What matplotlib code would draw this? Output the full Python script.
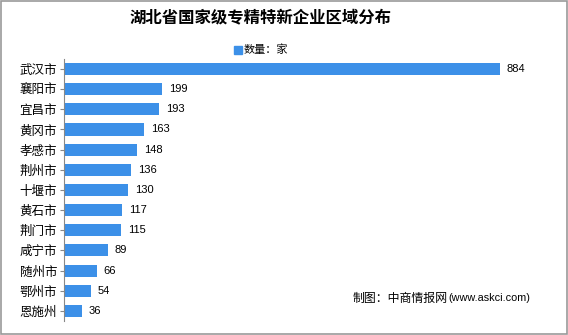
import numpy as np
import matplotlib
matplotlib.use('Agg')
import matplotlib.pyplot as plt
from matplotlib.patches import Rectangle

plt.rcParams['font.family'] = ['Noto Sans CJK SC', 'DejaVu Sans']

cities = ['武汉市', '襄阳市', '宜昌市', '黄冈市', '孝感市', '荆州市', '十堰市',
          '黄石市', '荆门市', '咸宁市', '随州市', '鄂州市', '恩施州']
counts = [884, 199, 193, 163, 148, 136, 130, 117, 115, 89, 66, 54, 36]

bar_color = '#3C90E8'

fig = plt.figure(figsize=(5.68, 3.35), dpi=100)
ax = fig.add_axes([0.1127, 0.042, 0.825, 0.782])

y = np.arange(len(cities))
ax.barh(y, counts, height=0.6, color=bar_color)
ax.set_ylim(len(cities) - 0.5, -0.5)
ax.set_xlim(0, 950)
ax.set_yticks(y)
ax.set_yticklabels(cities, fontsize=9)
ax.tick_params(axis='y', length=3, color='#888888', pad=2)
ax.set_xticks([])
for s in ['top', 'right', 'bottom']:
    ax.spines[s].set_visible(False)
ax.spines['left'].set_color('#888888')

for yi, v in zip(y, counts):
    ax.text(v + 14, yi, str(v), va='center', ha='left', fontsize=8,
            family=['Liberation Sans', 'DejaVu Sans'])

fig.text(0.459, 0.948, '湖北省国家级专精特新企业区域分布', ha='center', va='center',
         fontsize=11.8, fontweight='bold')
fig.add_artist(Rectangle((0.412, 0.838), 0.014, 0.025, transform=fig.transFigure,
                         color=bar_color))
fig.text(0.429, 0.851, '数量：家', ha='left', va='center', fontsize=8)

src = fig.text(0.621, 0.11, '制图：中商情报网', ha='left', va='center', fontsize=8.6)
fig.add_artist(plt.Annotation('(www.askci.com)', xy=(1, 0.5), xycoords=src,
                              xytext=(0.5, 0), textcoords='offset points',
                              ha='left', va='center', fontsize=7.8,
                              family=['Liberation Sans', 'DejaVu Sans']))

fig.add_artist(Rectangle((0.001, 0.002), 0.997, 0.995, transform=fig.transFigure,
                         fill=False, edgecolor='#999999', linewidth=1.2))

fig.savefig('out.png', dpi=100)
